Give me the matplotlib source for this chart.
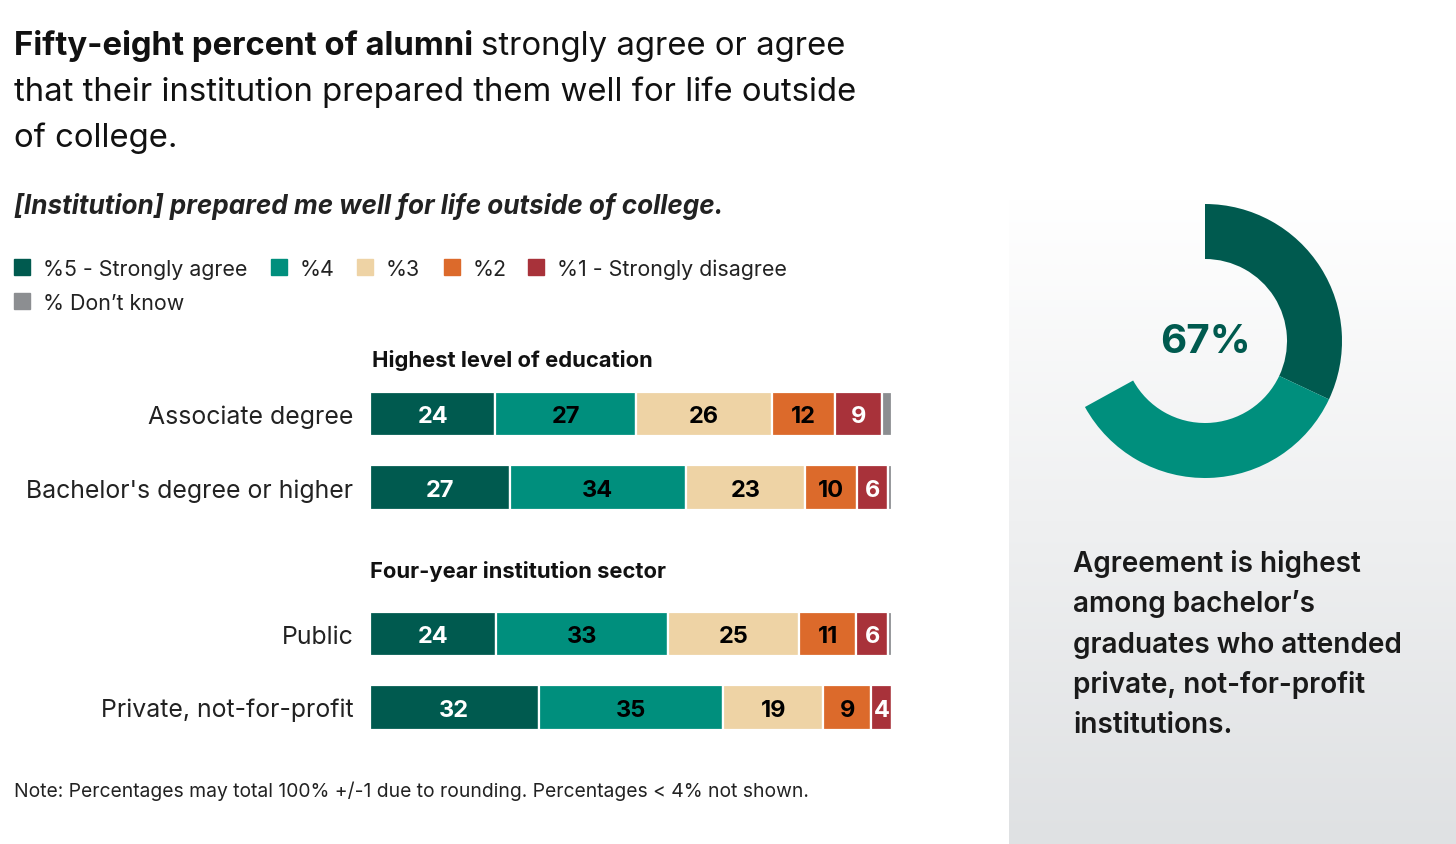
import matplotlib.pyplot as plt
import numpy as np

plt.rcParams['font.family'] = ['Inter', 'DejaVu Sans']

# data
rows = ["Associate degree", "Bachelor's degree or higher", "Public", "Private, not-for-profit"]
row_pos = [0, 1, 3, 4]
strongly_agree = [24, 27, 24, 32]
agree = [27, 34, 33, 35]
neutral = [26, 23, 25, 19]
disagree = [12, 10, 11, 9]
strongly_disagree = [9, 6, 6, 4]
dont_know = [2, 0.8, 0.8, 0]

series_names = ["%5 - Strongly agree", "%4", "%3", "%2", "%1 - Strongly disagree", "% Don\u2019t know"]
series_colors = ["#005a4f", "#008f7d", "#eed3a5", "#dc6a2b", "#a8323a", "#8c8e91"]
label_colors = ["white", "black", "black", "black", "white", None]

donut_values = [32, 35, 33]
donut_colors = ["#005a4f", "#008f7d", "none"]

W, H = 1456, 845
fig = plt.figure(figsize=(W / 100, H / 100), dpi=100)


def fx(x):
    return x / W


def fy(y):
    return 1 - y / H


# gradient panel on the right
bg = fig.add_axes([fx(1009), 0, fx(W - 1009), fy(200)])
grad = np.linspace(0, 1, 256).reshape(-1, 1)
top = np.array([1.0, 1.0, 1.0])
bot = np.array([0xdf, 0xe1, 0xe3]) / 255
img = top + (bot - top) * grad[:, :, None]
bg.imshow(img, aspect='auto', extent=[0, 1, 0, 1], origin='upper')
bg.axis('off')

# title
renderer = fig.canvas.get_renderer()
t1 = fig.text(fx(14), fy(55), "Fifty-eight percent of alumni", fontsize=23.7,
              fontweight='bold', color='#111111', va='baseline')
bb = t1.get_window_extent(renderer)
fig.text(bb.x1 / W + fx(8), fy(55), "strongly agree or agree", fontsize=23.7,
         color='#111111', va='baseline')
fig.text(fx(14), fy(101), "that their institution prepared them well for life outside",
         fontsize=23.7, color='#111111', va='baseline')
fig.text(fx(14), fy(147), "of college.", fontsize=23.7, color='#111111', va='baseline')

fig.text(fx(14), fy(214), "[Institution] prepared me well for life outside of college.",
         fontsize=18.8, fontweight='bold', fontstyle='italic', color='#222222', va='baseline')

# legend
leg_items = [(14, 276), (271, 276), (357, 276), (444, 276), (528, 276), (14, 310)]
for (lx, ly), name, col in zip(leg_items, series_names, series_colors):
    fig.patches.append(plt.Rectangle((fx(lx), fy(ly)), fx(16), 16 / H, color=col,
                                     transform=fig.transFigure, figure=fig))
    fig.text(fx(lx + 29), fy(ly), name, fontsize=15.4, color='#222222', va='baseline')

# stacked bars
unit = 73.3
ax = fig.add_axes([fx(370), fy(415 + 4 * unit + unit / 2), fx(522), 5 * unit / H])
series = [strongly_agree, agree, neutral, disagree, strongly_disagree, dont_know]
totals = np.sum(series, axis=0)
left = np.zeros(len(rows))
for vals, col, lc in zip(series, series_colors, label_colors):
    vals = np.array(vals, dtype=float)
    widths = vals / totals * 100
    ax.barh(row_pos, widths, left=left, height=0.61, color=col,
            edgecolor='white', linewidth=1.6)
    if lc is not None:
        for y, v, l, w in zip(row_pos, vals, left, widths):
            if v >= 4:
                ax.text(l + w / 2, y, f"{v:.0f}", ha='center', va='center_baseline',
                        fontsize=17, fontweight='bold', color=lc)
    left += widths

ax.set_xlim(0, 100)
ax.set_ylim(4.5, -0.5)
ax.set_yticks(row_pos)
ax.set_yticklabels(rows, fontsize=17.9, color='#222222')
ax.tick_params(axis='y', length=0, pad=12)
ax.set_xticks([])
for s in ax.spines.values():
    s.set_visible(False)
ax.patch.set_alpha(0)

ax.text(0.3, -0.75, "Highest level of education", fontsize=15.8, fontweight='bold',
        color='#111111', va='center')
ax.text(0, 2.13, "Four-year institution sector", fontsize=15.8, fontweight='bold',
        color='#111111', va='center')

fig.text(fx(14), fy(797), "Note: Percentages may total 100% +/-1 due to rounding. Percentages < 4% not shown.",
         fontsize=13.9, color='#222222', va='baseline')

# donut
r = 137
dax = fig.add_axes([fx(1205 - r), fy(342 + r), 2 * r / W, 2 * r / H])
dax.pie(donut_values, colors=donut_colors, startangle=90, counterclock=False,
        radius=1, wedgeprops=dict(width=55 / r, linewidth=0))
dax.set_xlim(-1, 1)
dax.set_ylim(-1, 1)
dax.set_aspect('equal')
dax.axis('off')
dax.text(0, 0.0, f"{donut_values[0] + donut_values[1]}%", ha='center', va='center',
         fontsize=29, fontweight='bold', color='#005a4f')

side_lines = ["Agreement is highest", "among bachelor\u2019s", "graduates who attended",
              "private, not-for-profit", "institutions."]
for i, line in enumerate(side_lines):
    fig.text(fx(1073), fy(572 + i * 40.3), line, fontsize=20.1, fontweight='semibold',
             color='#1a1a1a', va='baseline')

fig.savefig("out.png", dpi=100)
